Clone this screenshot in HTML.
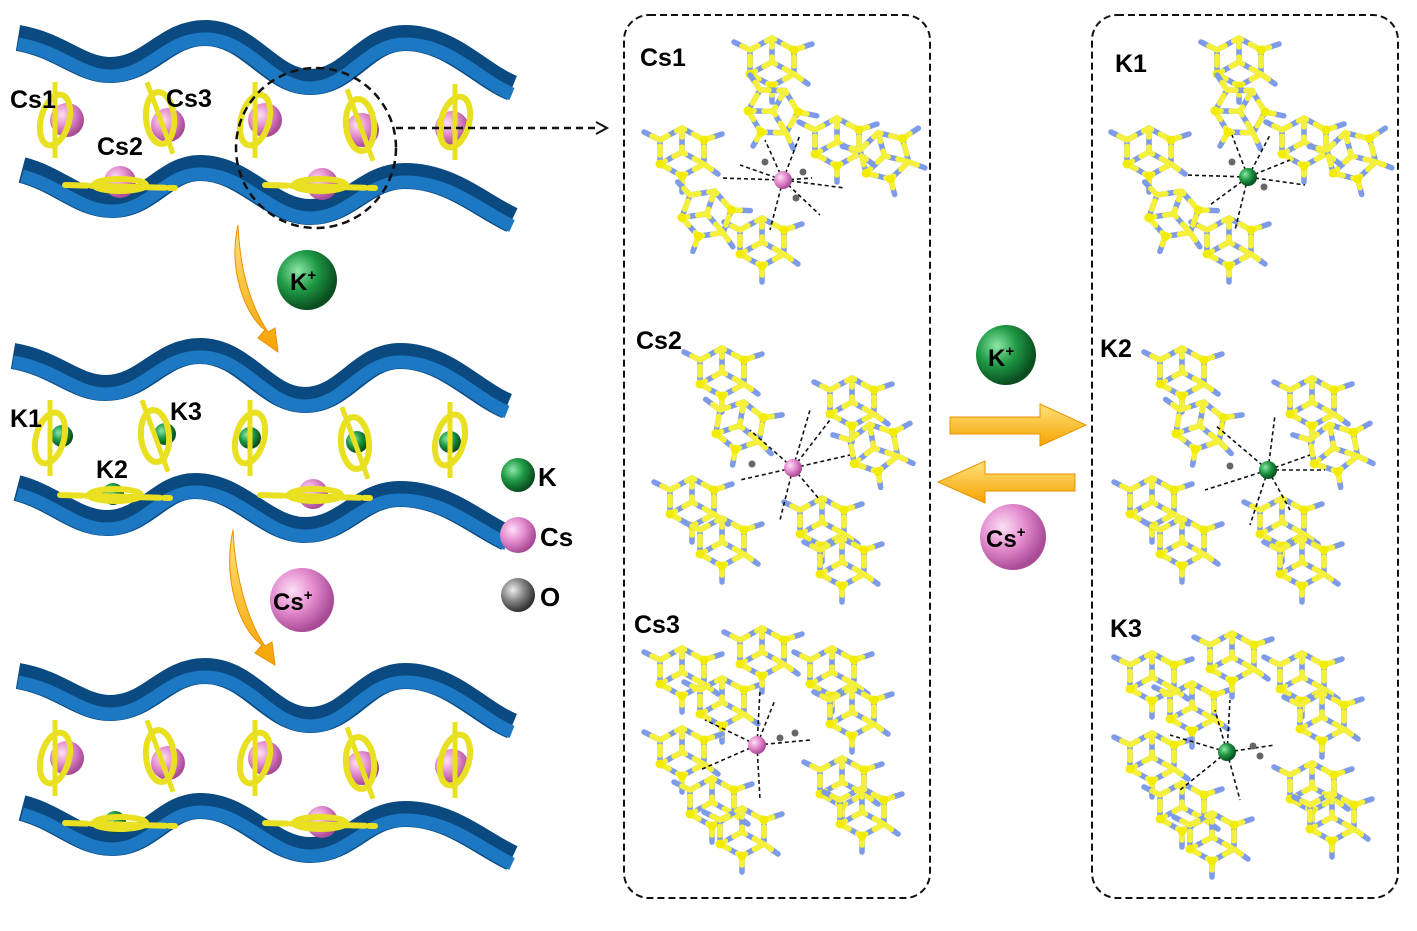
<!DOCTYPE html>
<html><head><meta charset="utf-8"><style>
body{margin:0;background:#fff;}
svg{display:block;font-family:"Liberation Sans",Arial,sans-serif;font-weight:bold;}
</style></head><body>
<svg width="1417" height="931" viewBox="0 0 1417 931" xmlns="http://www.w3.org/2000/svg">
<defs>
<radialGradient id="pk" cx="35%" cy="35%" r="65%"><stop offset="0" stop-color="#fbe0f4"/><stop offset="0.5" stop-color="#e58ed0"/><stop offset="1" stop-color="#a94b96"/></radialGradient>
<radialGradient id="gr" cx="35%" cy="35%" r="65%"><stop offset="0" stop-color="#8fe6a8"/><stop offset="0.5" stop-color="#1f9a45"/><stop offset="1" stop-color="#0a4d1f"/></radialGradient>
<radialGradient id="gy" cx="35%" cy="35%" r="65%"><stop offset="0" stop-color="#eee"/><stop offset="0.5" stop-color="#888"/><stop offset="1" stop-color="#333"/></radialGradient>
<linearGradient id="ar" x1="0" y1="0" x2="0" y2="1"><stop offset="0" stop-color="#ffe27a"/><stop offset="1" stop-color="#f5a300"/></linearGradient>
<g id="rib">
 <path d="M18,38 C60,45 80,70 110,70 C150,70 165,33 205,33 C250,33 270,82 310,82 C350,82 365,38 405,38 C450,38 480,75 512,88" fill="none" stroke="#0b4a80" stroke-width="26"/>
 <path d="M18,44 C60,51 80,76 110,76 C150,76 165,39 205,39 C250,39 270,88 310,88 C350,88 365,44 405,44 C450,44 480,81 512,94" fill="none" stroke="#1d78c4" stroke-width="13"/>
 <path d="M22,170 C60,180 80,205 112,205 C150,205 165,168 200,168 C245,168 270,212 310,212 C350,212 365,176 405,176 C450,176 480,205 512,220" fill="none" stroke="#0b4a80" stroke-width="26"/>
 <path d="M22,176 C60,186 80,211 112,211 C150,211 165,174 200,174 C245,174 270,218 310,218 C350,218 365,182 405,182 C450,182 480,211 512,226" fill="none" stroke="#1d78c4" stroke-width="13"/>
</g>
<g id="pil" stroke="#e8e020" stroke-width="5" fill="none">
 <line x1="0" y1="-38" x2="0" y2="38"/>
 <ellipse cx="0" cy="0" rx="14" ry="26" stroke-width="6" transform="rotate(15)"/>
</g>
<g id="plate" stroke="#e8e020" stroke-width="6" fill="none" stroke-linecap="round">
 <line x1="-55" y1="0" x2="55" y2="3" stroke-dasharray="22 4"/><ellipse cx="0" cy="0" rx="26" ry="6"/>
</g>
<g id="cage" fill="none" stroke-width="5.5" stroke-linecap="round">
 <path d="M0,0 L22,-12 L44,0 L44,24 L22,36 L0,24 Z M22,-12 L22,12 L44,24 M22,12 L0,24 M44,0 L62,-6 M0,0 L-16,-8 M22,36 L22,52 M44,24 L58,34" stroke="#7d9be8"/>
 <path d="M0,0 L22,-12 L44,0 L44,24 L22,36 L0,24 Z M22,-12 L22,12 L44,24 M22,12 L0,24 M44,0 L62,-6 M0,0 L-16,-8 M22,36 L22,52 M44,24 L58,34" stroke="#f5f03a" stroke-dasharray="9 10"/>
 <g fill="#f2ec00" stroke="none"><circle cx="0" cy="24" r="4.5"/><circle cx="44" cy="0" r="4.5"/><circle cx="22" cy="36" r="4.5"/></g>
</g>
</defs>

<g>
 <use href="#rib"/>
 <g fill="url(#pk)">
  <circle cx="67" cy="120" r="17"/><circle cx="168" cy="125" r="17"/><circle cx="265" cy="120" r="17"/><circle cx="362" cy="130" r="17"/><circle cx="452" cy="128" r="17"/>
  <circle cx="120" cy="182" r="16"/><circle cx="322" cy="184" r="16"/>
 </g>
 <use href="#pil" transform="translate(55,120)"/><use href="#pil" transform="translate(160,118) rotate(-20)"/><use href="#pil" transform="translate(255,120)"/><use href="#pil" transform="translate(360,125) rotate(-20)"/><use href="#pil" transform="translate(455,122)"/>
 <use href="#plate" transform="translate(120,185)"/><use href="#plate" transform="translate(320,185)"/>
</g>
<text x="10" y="108" font-size="25">Cs1</text><text x="166" y="107" font-size="25">Cs3</text><text x="97" y="155" font-size="25">Cs2</text>

<g transform="translate(-5,318)">
 <use href="#rib"/>
 <g fill="url(#gr)"><circle cx="67" cy="118" r="11"/><circle cx="170" cy="116" r="11"/><circle cx="255" cy="120" r="11"/><circle cx="362" cy="124" r="11"/><circle cx="455" cy="124" r="11"/><circle cx="118" cy="176" r="11"/></g>
 <circle cx="318" cy="176" r="15" fill="url(#pk)"/>
 <use href="#pil" transform="translate(55,120)"/><use href="#pil" transform="translate(160,118) rotate(-20)"/><use href="#pil" transform="translate(255,120)"/><use href="#pil" transform="translate(360,125) rotate(-20)"/><use href="#pil" transform="translate(455,122)"/>
 <use href="#plate" transform="translate(120,177)"/><use href="#plate" transform="translate(320,177)"/>
</g>
<text x="10" y="427" font-size="25">K1</text><text x="170" y="420" font-size="25">K3</text><text x="96" y="478" font-size="25">K2</text>

<g transform="translate(0,638)">
 <use href="#rib"/>
 <g fill="url(#pk)"><circle cx="67" cy="120" r="17"/><circle cx="168" cy="125" r="17"/><circle cx="265" cy="120" r="17"/><circle cx="362" cy="130" r="17"/><circle cx="452" cy="128" r="17"/><circle cx="322" cy="184" r="16"/></g>
 <circle cx="115" cy="184" r="11" fill="url(#gr)"/>
 <use href="#pil" transform="translate(55,120)"/><use href="#pil" transform="translate(160,118) rotate(-20)"/><use href="#pil" transform="translate(255,120)"/><use href="#pil" transform="translate(360,125) rotate(-20)"/><use href="#pil" transform="translate(455,122)"/>
 <use href="#plate" transform="translate(120,185)"/><use href="#plate" transform="translate(320,185)"/>
</g>

<circle cx="316" cy="148" r="80" fill="none" stroke="#111" stroke-width="2.5" stroke-dasharray="8 5"/>
<line x1="396" y1="128" x2="598" y2="128" stroke="#111" stroke-width="2.5" stroke-dasharray="7 5"/>
<path d="M596,122 L607,128 L596,134" fill="none" stroke="#111" stroke-width="2"/>

<path d="M238,225 C228,270 245,315 265,330 L258,338 L278,352 L275,328 L268,332 C250,305 240,270 238,225 Z" fill="url(#ar)" stroke="#e89000"/>
<path d="M233,530 C222,580 240,630 262,645 L255,653 L275,665 L272,642 L265,646 C247,620 235,575 233,530 Z" fill="url(#ar)" stroke="#e89000"/>
<circle cx="307" cy="280" r="30" fill="url(#gr)"/><text x="290" y="290" font-size="24">K<tspan font-size="15" dy="-10">+</tspan></text>
<circle cx="302" cy="600" r="32" fill="url(#pk)"/><text x="273" y="610" font-size="24">Cs<tspan font-size="15" dy="-10">+</tspan></text>

<circle cx="518" cy="475" r="17" fill="url(#gr)"/><text x="538" y="486" font-size="26">K</text>
<circle cx="518" cy="535" r="18" fill="url(#pk)"/><text x="540" y="546" font-size="26">Cs</text>
<circle cx="518" cy="595" r="17" fill="url(#gy)"/><text x="540" y="606" font-size="26">O</text>

<rect x="624" y="15" width="306" height="883" rx="25" fill="none" stroke="#111" stroke-width="2" stroke-dasharray="7 4"/>
<rect x="1092" y="15" width="306" height="883" rx="25" fill="none" stroke="#111" stroke-width="2" stroke-dasharray="7 4"/>
<text x="640" y="66" font-size="25">Cs1</text><text x="636" y="349" font-size="25">Cs2</text><text x="634" y="633" font-size="25">Cs3</text>
<text x="1115" y="72" font-size="25">K1</text><text x="1100" y="357" font-size="25">K2</text><text x="1110" y="637" font-size="25">K3</text>

<g id="s1">
 <use href="#cage" transform="translate(750,50)"/><use href="#cage" transform="translate(660,140)"/><use href="#cage" transform="translate(815,130)"/><use href="#cage" transform="translate(740,230)"/><use href="#cage" transform="translate(690,195) rotate(20)"/><use href="#cage" transform="translate(860,150) rotate(-15)"/><use href="#cage" transform="translate(760,90) rotate(30)"/>
</g>
<use href="#s1" transform="translate(467,0)"/>
<g id="s2">
 <use href="#cage" transform="translate(700,360)"/><use href="#cage" transform="translate(720,410) rotate(10)"/><use href="#cage" transform="translate(830,390)"/><use href="#cage" transform="translate(850,440) rotate(-10)"/><use href="#cage" transform="translate(670,490)"/><use href="#cage" transform="translate(700,530)"/><use href="#cage" transform="translate(800,510)"/><use href="#cage" transform="translate(820,550)"/>
</g>
<use href="#s2" transform="translate(460,0)"/>
<g id="s3">
 <use href="#cage" transform="translate(660,660)"/><use href="#cage" transform="translate(700,690)"/><use href="#cage" transform="translate(660,740)"/><use href="#cage" transform="translate(690,790)"/><use href="#cage" transform="translate(720,820)"/><use href="#cage" transform="translate(810,660)"/><use href="#cage" transform="translate(830,700)"/><use href="#cage" transform="translate(820,770)"/><use href="#cage" transform="translate(840,800)"/><use href="#cage" transform="translate(740,640)"/>
</g>
<use href="#s3" transform="translate(470,5)"/>

<g stroke="#111" stroke-width="1.6" stroke-dasharray="4 3">
 <path d="M783,180 L765,140 M783,180 L720,178 M783,180 L845,188 M783,180 L800,135 M783,180 L770,230 M783,180 L820,215 M783,180 L740,165 M783,180 L812,178"/>
 <path d="M1248,177 L1232,135 M1248,177 L1185,175 M1248,177 L1305,185 M1248,177 L1270,135 M1248,177 L1235,230 M1248,177 L1210,205 M1248,177 L1290,160"/>
 <path d="M793,468 L740,480 M793,468 L810,410 M793,468 L830,420 M793,468 L850,455 M793,468 L780,520 M793,468 L820,500 M793,468 L750,430"/>
 <path d="M1268,470 L1215,425 M1268,470 L1275,415 M1268,470 L1310,455 M1268,470 L1205,490 M1268,470 L1250,525 M1268,470 L1290,510 M1268,470 L1325,470"/>
 <path d="M757,745 L705,720 M757,745 L760,690 M757,745 L700,770 M757,745 L760,800 M757,745 L810,740 M757,745 L775,700"/>
 <path d="M1227,752 L1170,735 M1227,752 L1230,700 M1227,752 L1180,790 M1227,752 L1240,800 M1227,752 L1275,745 M1227,752 L1215,710"/>
</g>
<g fill="#666"><circle cx="765" cy="162" r="3.5"/><circle cx="803" cy="172" r="3.5"/><circle cx="796" cy="198" r="3.5"/><circle cx="752" cy="464" r="3.5"/><circle cx="1232" cy="162" r="3.5"/><circle cx="1264" cy="187" r="3.5"/><circle cx="1230" cy="466" r="3.5"/><circle cx="780" cy="738" r="3.5"/><circle cx="795" cy="733" r="3.5"/><circle cx="1253" cy="746" r="3.5"/><circle cx="1260" cy="756" r="3.5"/></g>
<circle cx="783" cy="180" r="9" fill="url(#pk)"/><circle cx="793" cy="468" r="9" fill="url(#pk)"/><circle cx="757" cy="745" r="9" fill="url(#pk)"/>
<circle cx="1248" cy="177" r="9" fill="url(#gr)"/><circle cx="1268" cy="470" r="9" fill="url(#gr)"/><circle cx="1227" cy="752" r="9" fill="url(#gr)"/>

<path d="M950,417 L1040,417 L1040,404 L1086,425 L1040,446 L1040,434 L950,434 Z" fill="url(#ar)" stroke="#e89000"/>
<path d="M1075,474 L985,474 L985,461 L938,482 L985,503 L985,491 L1075,491 Z" fill="url(#ar)" stroke="#e89000"/>
<circle cx="1006" cy="355" r="30" fill="url(#gr)"/><text x="988" y="366" font-size="24">K<tspan font-size="15" dy="-10">+</tspan></text>
<circle cx="1013" cy="537" r="33" fill="url(#pk)"/><text x="986" y="547" font-size="24">Cs<tspan font-size="15" dy="-10">+</tspan></text>
</svg>
</body></html>
